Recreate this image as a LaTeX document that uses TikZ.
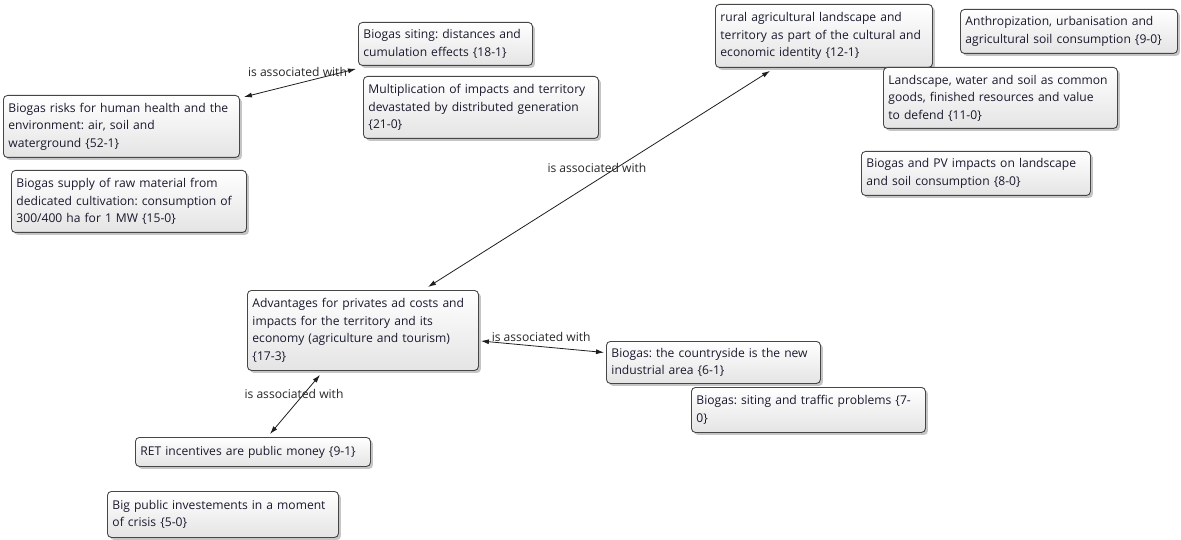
\documentclass[tikz,border=0pt]{standalone}
\usepackage{fontspec}
\setmainfont{Open Sans}
\usetikzlibrary{arrows.meta,shadows}
\definecolor{txt}{RGB}{25,25,45}
\definecolor{bord}{RGB}{70,70,70}
\definecolor{boxbot}{RGB}{228,228,228}
\definecolor{edgec}{RGB}{30,30,30}
\tikzset{
  cbox/.style={draw=bord, line width=0.9pt, rounded corners=4pt,
    top color=white, bottom color=boxbot,
    drop shadow={shadow xshift=2.5pt, shadow yshift=-2.5pt, fill=black!45},
    anchor=north west, align=left, inner xsep=5pt, inner ysep=2pt,
    text=txt, font=\fontsize{12.1}{17.5}\selectfont},
  rel/.style={edgec, line width=0.8pt, {Latex[length=8pt,width=5pt]}-{Latex[length=8pt,width=5pt]}},
  lbl/.style={text=black!85, font=\fontsize{12.1}{13}\selectfont, inner sep=0pt}
}
\frenchspacing
\begin{document}
\frenchspacing
\begin{tikzpicture}[x=1pt,y=-1pt]
\useasboundingbox (0,0) rectangle (1181,540);
\node[cbox, minimum width=174pt, minimum height=43pt, text width=164pt] (siting) at (358,22) {Biogas siting: distances and\\cumulation effects \{18-1\}};
\node[cbox, minimum width=235pt, minimum height=62pt, text width=225pt] (mult) at (363,76) {Multiplication of impacts and territory\\devastated by distributed generation\\\{21-0\}};
\node[cbox, minimum width=236pt, minimum height=62pt, text width=226pt] (risks) at (3,95) {Biogas risks for human health and the\\environment: air, soil and\\waterground \{52-1\}};
\node[cbox, minimum width=235pt, minimum height=62pt, text width=225pt] (supply) at (11,170) {Biogas supply of raw material from\\dedicated cultivation: consumption of\\300/400 ha for 1 MW \{15-0\}};
\node[cbox, minimum width=217pt, minimum height=63pt, text width=207pt] (rural) at (715,4) {rural agricultural landscape and\\territory as part of the cultural and\\economic identity \{12-1\}};
\node[cbox, minimum width=217pt, minimum height=44pt, text width=207pt] (anthro) at (960,9) {Anthropization, urbanisation and\\agricultural soil consumption \{9-0\}};
\node[cbox, minimum width=234pt, minimum height=61pt, text width=224pt] (land) at (883,67) {Landscape, water and soil as common\\goods, finished resources and value\\to defend \{11-0\}};
\node[cbox, minimum width=229pt, minimum height=44pt, text width=219pt] (pv) at (861,151) {Biogas and PV impacts on landscape\\and soil consumption \{8-0\}};
\node[cbox, minimum width=231pt, minimum height=80pt, text width=221pt] (adv) at (247,290) {Advantages for privates ad costs and\\impacts for the territory and its\\economy (agriculture and tourism)\\\{17-3\}};
\node[cbox, minimum width=214pt, minimum height=42pt, text width=204pt] (country) at (606,341) {Biogas: the countryside is the new\\industrial area \{6-1\}};
\node[cbox, minimum width=234pt, minimum height=45pt, text width=224pt] (traffic) at (691,387) {Biogas: siting and traffic problems \{7-\\0\}};
\node[cbox, minimum width=235pt, minimum height=29pt, text width=225pt] (ret) at (135,437) {RET incentives are public money \{9-1\}};
\node[cbox, minimum width=231pt, minimum height=46pt, text width=221pt] (big) at (107,491) {Big public investements in a moment\\of crisis \{5-0\}};

\draw[rel] ([xshift=4pt,yshift=-2pt]risks.north east) -- ([xshift=-2pt,yshift=-3pt]siting.south west)
  node[lbl, pos=0.478, yshift=12pt] {is associated with};
\draw[rel] ([xshift=181pt,yshift=3pt]adv.north west) -- ([xshift=55pt,yshift=-3pt]rural.south west)
  node[lbl, pos=0.494, yshift=12pt] {is associated with};
\draw[rel] ([xshift=2pt,yshift=-51pt]adv.north east) -- ([xshift=-2pt,yshift=10pt]country.west)
  node[lbl, pos=0.49, yshift=10pt] {is associated with};
\draw[rel] ([xshift=73pt,yshift=-4pt]adv.south west) -- ([xshift=135pt,yshift=3pt]ret.north west)
  node[lbl, pos=0.32, xshift=-10pt] {is associated with};
\end{tikzpicture}
\end{document}
